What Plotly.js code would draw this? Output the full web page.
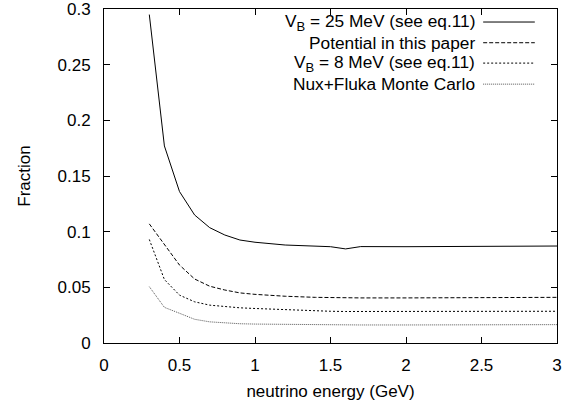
<!DOCTYPE html>
<html><head><meta charset="utf-8">
<script src="https://cdn.plot.ly/plotly-3.0.1.min.js"></script>
<style>html,body{margin:0;padding:0;background:#fff}#chart{width:579px;height:403px}</style>
</head><body><div id="chart"></div>
<script>
const energy = [0.3,0.4,0.5,0.6,0.7,0.8,0.9,1.0,1.2,1.4,1.5,1.6,1.7,2.0,2.5,3.0];
const vb25 =      [0.295,0.177,0.136,0.115,0.1036,0.097,0.0925,0.0905,0.088,0.0868,0.0865,0.0845,0.0866,0.0865,0.0868,0.0871];
const potential = [0.107,0.089,0.070,0.0575,0.051,0.0476,0.045,0.0437,0.042,0.041,0.0407,0.0405,0.0405,0.0405,0.0408,0.041];
const vb8 =       [0.093,0.057,0.043,0.037,0.034,0.0326,0.0316,0.031,0.0298,0.0288,0.0285,0.0283,0.0283,0.0283,0.0284,0.0285];
const nux =       [0.0506,0.032,0.0267,0.0213,0.019,0.018,0.0173,0.017,0.0166,0.0163,0.0162,0.0162,0.0162,0.0162,0.0164,0.0165];
const seriesNames = ['V<sub><span style="font-size:13px">B</span></sub> = 25 MeV (see eq.11)','Potential in this paper','V<sub><span style="font-size:13px">B</span></sub> = 8 MeV (see eq.11)','Nux+Fluka Monte Carlo'];
const xTicks = [0,0.5,1,1.5,2,2.5,3];
const xTickLabels = ["0","0.5","1","1.5","2","2.5","3"];
const yTicks = [0,0.05,0.1,0.15,0.2,0.25,0.3];
const yTickLabels = ["0","0.05","0.1","0.15","0.2","0.25","0.3"];

const FONT = 'Liberation Sans, Arial, Helvetica, sans-serif';
const styles = [
  {color:'#000', dash:'solid', width:1},
  {color:'#000', dash:'4px,2px', width:1},
  {color:'#000', dash:'2px,2px', width:1},
  {color:'#555', dash:'1px,1px', width:1}
];
const ys = [vb25, potential, vb8, nux];
const traces = ys.map((y,i)=>({x:energy, y:y, type:'scatter', mode:'lines', name:seriesNames[i], line:styles[i], showlegend:false, hoverinfo:'skip'}));

const legendRows = [0.961, 0.899, 0.838, 0.775];
const annotations = seriesNames.map((t,i)=>({xref:'paper', yref:'paper', x:0.823, y:legendRows[i], xanchor:'right', yanchor:'middle', text:t, showarrow:false, font:{family:FONT, size:17.3, color:'#000'}}));
const shapes = styles.map((s,i)=>({type:'line', xref:'paper', yref:'paper', x0:0.837, x1:0.951, y0:legendRows[i], y1:legendRows[i], line:{color:s.color, dash:s.dash, width:1}}));

const axisCommon = {showgrid:false, zeroline:false, showline:true, linecolor:'#000', linewidth:1, mirror:'allticks', ticks:'inside', ticklen:6, tickcolor:'#000', tickwidth:1, ticklabeloverflow:'allow', tickfont:{family:FONT, size:17, color:'#000'}};
const layout = {
  width:579, height:403,
  margin:{l:104, r:22, t:9, b:60},
  paper_bgcolor:'#fff', plot_bgcolor:'#fff',
  showlegend:false,
  xaxis:Object.assign({}, axisCommon, {range:[0,3], tickvals:xTicks, ticktext:xTickLabels, ticklabelstandoff:7, automargin:false, title:{text:'neutrino energy (GeV)', standoff:10, font:{family:FONT, size:17, color:'#000'}}}),
  yaxis:Object.assign({}, axisCommon, {range:[0,0.3], tickvals:yTicks, ticktext:yTickLabels, ticklabelstandoff:9, automargin:false, title:{text:'Fraction', standoff:22, font:{family:FONT, size:17, color:'#000'}}}),
  annotations:annotations,
  shapes:shapes
};
Plotly.newPlot('chart', traces, layout, {displayModeBar:false, staticPlot:true});
</script></body></html>
